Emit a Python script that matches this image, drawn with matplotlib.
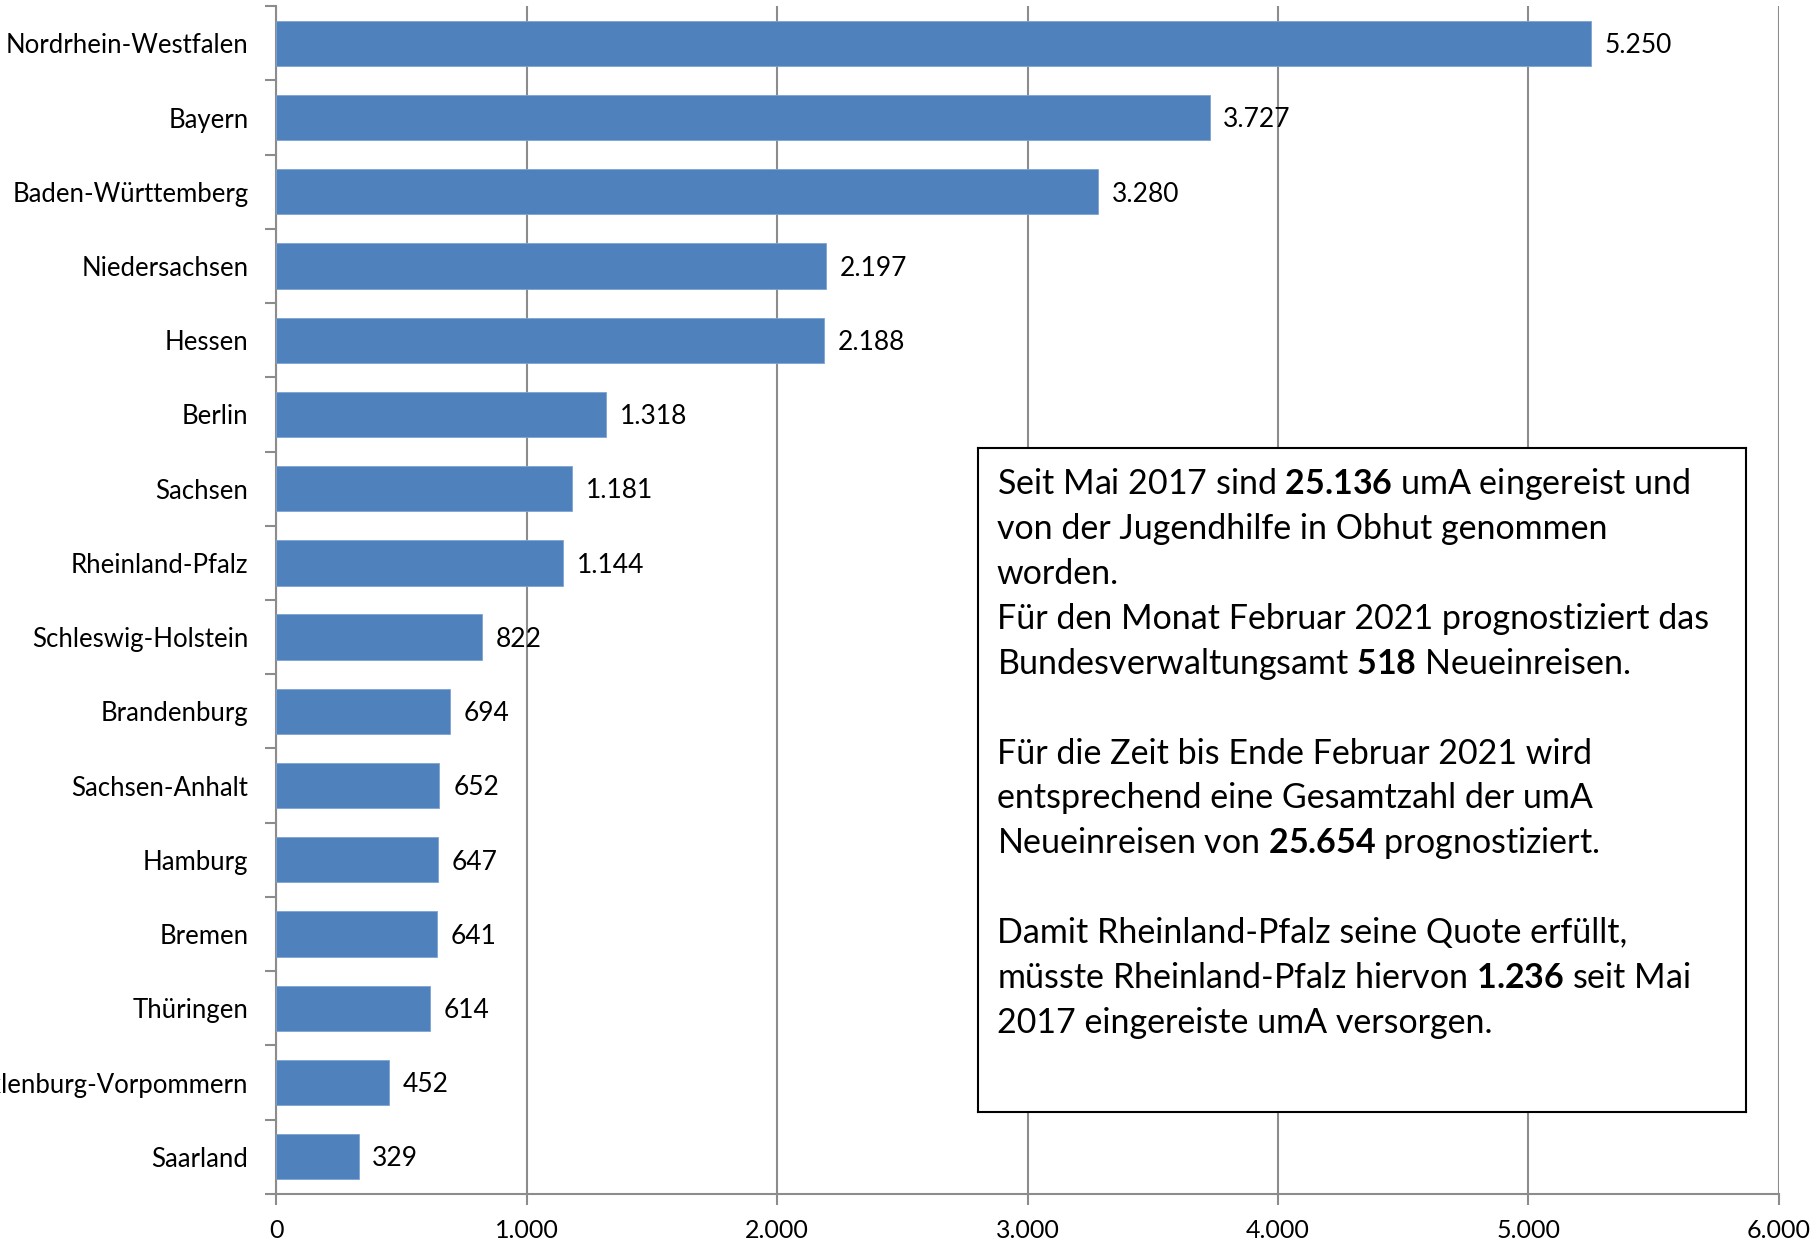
import matplotlib
matplotlib.use("Agg")
import matplotlib.pyplot as plt
import numpy as np

plt.rcParams['font.family'] = ['Lato', 'DejaVu Sans']
plt.rcParams['mathtext.fontset'] = 'custom'
plt.rcParams['mathtext.rm'] = 'Lato'
plt.rcParams['mathtext.bf'] = 'Lato:bold'

laender = ["Nordrhein-Westfalen", "Bayern", "Baden-Württemberg", "Niedersachsen",
           "Hessen", "Berlin", "Sachsen", "Rheinland-Pfalz", "Schleswig-Holstein",
           "Brandenburg", "Sachsen-Anhalt", "Hamburg", "Bremen", "Thüringen",
           "Mecklenburg-Vorpommern", "Saarland"]
werte = [5250, 3727, 3280, 2197, 2188, 1318, 1181, 1144, 822, 694, 652, 647, 641, 614, 452, 329]
xticks = [0, 1000, 2000, 3000, 4000, 5000, 6000]

def de(v):
    return f"{v:,}".replace(",", ".")

fig = plt.figure(figsize=(18.17, 12.41), dpi=100)
ax = fig.add_axes([0.152, 0.038, 0.827, 0.957])

y = np.arange(len(laender))
ax.barh(y, werte, height=0.61, color="#4F81BD", edgecolor="#7FA3D3", linewidth=0.6, zorder=3)
for yi, v in zip(y, werte):
    ax.text(v + 55, yi + 0.03, de(v), va="center", ha="left", fontsize=19, zorder=4)

ax.set_ylim(len(laender) - 0.5, -0.5)
ax.set_xlim(0, 6000)
ax.set_xticks(xticks)
ax.set_xticklabels([de(t) for t in xticks], fontsize=18)
ax.set_yticks(y)
ax.set_yticklabels(laender, fontsize=18.5)
ax.set_yticks(np.arange(len(laender) + 1) - 0.5, minor=True)
ax.tick_params(axis="y", which="major", length=0, pad=20)
ax.tick_params(axis="y", which="minor", length=8, color="#8c8c8c", width=1.5)
ax.tick_params(axis="x", length=8, color="#8c8c8c", width=1.5, pad=10)

ax.grid(axis="x", color="#8c8c8c", linewidth=1.5, zorder=0)
for s in ["top", "right"]:
    ax.spines[s].set_visible(False)
for s in ["left", "bottom"]:
    ax.spines[s].set_color("#8c8c8c")
    ax.spines[s].set_linewidth(1.5)

# Textbox
box = fig.add_axes([0.538, 0.104, 0.423, 0.535])
box.set_xticks([])
box.set_yticks([])
for s in box.spines.values():
    s.set_linewidth(1.5)
    s.set_color("black")
box.set_xlim(0, 1)
box.set_ylim(0, 1)

zeilen = [
    r"Seit Mai 2017 sind $\mathbf{25.136}$ umA eingereist und",
    "von der Jugendhilfe in Obhut genommen",
    "worden.",
    "Für den Monat Februar 2021 prognostiziert das",
    r"Bundesverwaltungsamt $\mathbf{518}$ Neueinreisen.",
    "",
    "Für die Zeit bis Ende Februar 2021 wird",
    "entsprechend eine Gesamtzahl der umA",
    r"Neueinreisen von $\mathbf{25.654}$ prognostiziert.",
    "",
    "Damit Rheinland-Pfalz seine Quote erfüllt,",
    r"müsste Rheinland-Pfalz hiervon $\mathbf{1.236}$ seit Mai",
    "2017 eingereiste umA versorgen.",
]
y0 = 0.946
dy = 0.0677
for i, z in enumerate(zeilen):
    if z:
        box.text(0.025, y0 - i * dy, z, fontsize=24.5, va="center", ha="left")

fig.savefig("out.png", dpi=100)
